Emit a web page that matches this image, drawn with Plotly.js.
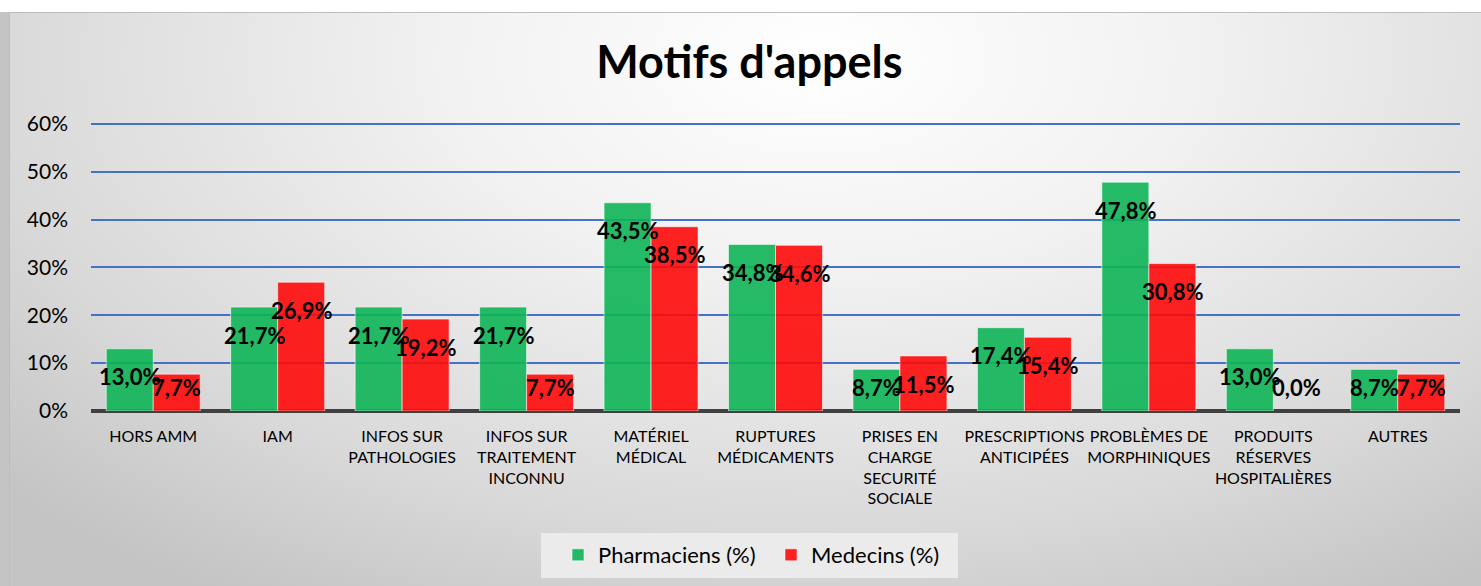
<!DOCTYPE html>
<html>
<head>
<meta charset="utf-8">
<script src="https://cdn.plot.ly/plotly-3.0.1.min.js"></script>
<style>
  html, body { margin: 0; padding: 0; background: #ffffff; }
  #wrap { position: relative; width: 1481px; height: 586px; overflow: hidden; }
  #bg { position: absolute; left: 9px; top: 12px; width: 1472px; height: 574px;
        border-top: 1px solid #bdbdbd; border-left: 1px solid #bdbdbd;
        background: radial-gradient(ellipse 75% 110% at 55% 8%, #ffffff 0%, #f1f1f1 35%, #d9d9d9 75%, #c4c4c4 100%); }
  #strip { position: absolute; left: 0; top: 12px; width: 9px; height: 574px; background: #c4c4c4; }
  #chart { position: absolute; left: 0; top: 0; width: 1481px; height: 586px; }
</style>
</head>
<body>
<div id="wrap">
  <div id="strip"></div>
  <div id="bg"></div>
  <div id="chart"></div>
</div>
<script>
const categories = ["HORS AMM", "IAM", "INFOS SUR PATHOLOGIES", "INFOS SUR TRAITEMENT INCONNU",
  "MATÉRIEL MÉDICAL", "RUPTURES MÉDICAMENTS", "PRISES EN CHARGE SECURITÉ SOCIALE",
  "PRESCRIPTIONS ANTICIPÉES", "PROBLÈMES DE MORPHINIQUES", "PRODUITS RÉSERVES HOSPITALIÈRES", "AUTRES"];
const tickLabels = ["HORS AMM", "IAM", "INFOS SUR<br>PATHOLOGIES", "INFOS SUR<br>TRAITEMENT<br>INCONNU",
  "MATÉRIEL<br>MÉDICAL", "RUPTURES<br>MÉDICAMENTS", "PRISES EN<br>CHARGE<br>SECURITÉ<br>SOCIALE",
  "PRESCRIPTIONS<br>ANTICIPÉES", "PROBLÈMES DE<br>MORPHINIQUES", "PRODUITS<br>RÉSERVES<br>HOSPITALIÈRES", "AUTRES"];
const pharmaciens = [13.0, 21.7, 21.7, 21.7, 43.5, 34.8, 8.7, 17.4, 47.8, 13.0, 8.7];
const medecins = [7.7, 26.9, 19.2, 7.7, 38.5, 34.6, 11.5, 15.4, 30.8, 0.0, 7.7];
const seriesNames = ["Pharmaciens (%)", "Medecins (%)"];
const yTicks = [0, 10, 20, 30, 40, 50, 60];

const FONT = "Lato, 'Open Sans', sans-serif";
const colors = ["rgba(13,180,86,0.9)", "rgba(255,10,10,0.9)"];
const series = [pharmaciens, medecins];

const traces = series.map((vals, k) => ({
  type: "bar",
  name: seriesNames[k],
  x: categories,
  y: vals,
  marker: { color: colors[k], line: { color: "rgba(255,255,255,0.55)", width: vals.map(v => v > 0 ? 1 : 0) } },
  hoverinfo: "skip"
}));

const fmt = v => v.toFixed(1).replace(".", ",") + "%";
const annotations = [];
series.forEach((vals, k) => {
  vals.forEach((v, i) => {
    annotations.push({
      x: categories[i], y: Math.max(v - 5.86, 5.0), xref: "x", yref: "y",
      xshift: k === 0 ? -23.5 : 23.5,
      text: fmt(v), showarrow: false,
      font: { family: FONT, size: 22, color: "#000000", weight: 700 },
      xanchor: "center", yanchor: "middle"
    });
  });
});

const layout = {
  width: 1481, height: 586,
  paper_bgcolor: "rgba(0,0,0,0)", plot_bgcolor: "rgba(0,0,0,0)",
  margin: { l: 91, r: 21, t: 119, b: 175 },
  barmode: "group", bargap: 0.245, bargroupgap: 0,
  title: { text: "<b>Motifs d'appels</b>", x: 0.506, xanchor: "center", y: 0.894, yanchor: "middle",
           yref: "container", font: { family: FONT, size: 45, color: "#000000" } },
  xaxis: {
    type: "category", tickvals: categories, ticktext: tickLabels,
    tickfont: { family: FONT, size: 16, color: "#000000" },
    showgrid: false, showline: false, ticks: "", zeroline: false, tickangle: 0,
    ticklabelstandoff: 14
  },
  yaxis: {
    range: [0, 61], tickvals: yTicks, ticktext: yTicks.map(t => t + "%"),
    tickfont: { family: FONT, size: 21, color: "#000000" },
    showgrid: true, gridcolor: "#4472c4", gridwidth: 2,
    zeroline: true, zerolinecolor: "#404040", zerolinewidth: 4,
    showline: false, ticks: "", ticklabelstandoff: 22
  },
  shapes: [{
    type: "rect", xref: "paper", yref: "paper", layer: "below",
    x0: (541 - 91) / 1369, x1: (958 - 91) / 1369,
    y0: (411 - 578) / 292, y1: (411 - 533) / 292,
    fillcolor: "#ebebeb", line: { width: 0 }
  }],
  showlegend: true,
  legend: {
    orientation: "h", x: 558 / 1481, xanchor: "left", xref: "container",
    y: 1 - 555 / 586, yanchor: "middle", yref: "container",
    bgcolor: "rgba(0,0,0,0)", borderwidth: 0,
    font: { family: FONT, size: 22, color: "#000000" },
    entrywidth: 168, itemwidth: 30
  },
  annotations: annotations
};

Plotly.newPlot("chart", traces, layout, { displayModeBar: false, staticPlot: true });
</script>
</body>
</html>
